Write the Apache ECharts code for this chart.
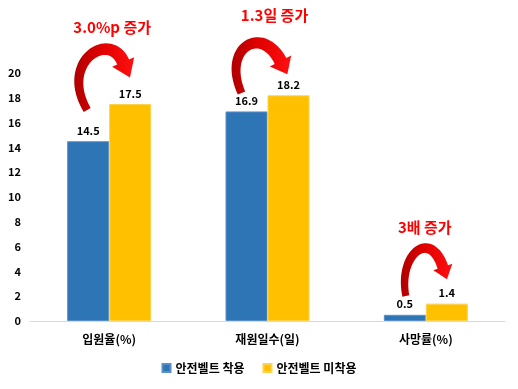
<!DOCTYPE html>
<html><head><meta charset="utf-8">
<script src="https://cdn.jsdelivr.net/npm/echarts@6/dist/echarts.min.js"></script>
<style>html,body{margin:0;padding:0;background:#fff}#c{width:518px;height:389px}</style>
</head><body><div id="c"></div>
<script>
const categories = ['입원율(%)', '재원일수(일)', '사망률(%)'];
const seriesNames = ['안전벨트 착용', '안전벨트 미착용'];
const wearing = [14.5, 16.9, 0.5];
const notWearing = [17.5, 18.2, 1.4];
const yMin = 0, yMax = 20, yInterval = 2;
const notes = ['3.0%p 증가', '1.3일 증가', '3배 증가'];

const FONT = '"Noto Sans CJK KR", "Noto Sans", sans-serif';
const chart = echarts.init(document.getElementById('c'), null, {renderer: 'canvas'});
const lbl = {show: true, position: 'top', distance: 5, color: '#000', fontSize: 11, fontWeight: 'bold', fontFamily: FONT};
chart.setOption({
  animation: false,
  backgroundColor: '#fff',
  grid: {left: 30, right: 13, top: 73, bottom: 68},
  legend: {bottom: 10, left: 'center', itemWidth: 8, itemHeight: 8, itemGap: 18, icon: 'rect',
    textStyle: {fontSize: 12, fontWeight: 'bold', color: '#000', fontFamily: FONT}, data: seriesNames},
  xAxis: {type: 'category', data: categories,
    axisLine: {lineStyle: {color: '#d9d9d9', width: 1}}, axisTick: {show: false},
    axisLabel: {margin: 12, fontSize: 12, fontWeight: 'bold', color: '#000', fontFamily: FONT}},
  yAxis: {type: 'value', min: yMin, max: yMax, interval: yInterval,
    axisLine: {show: false}, axisTick: {show: false}, splitLine: {show: false},
    axisLabel: {margin: 9, fontSize: 11, fontWeight: 'bold', color: '#000', fontFamily: FONT}},
  series: [
    {name: seriesNames[0], type: 'bar', data: wearing, barWidth: 42, barGap: '0%',
      itemStyle: {color: '#2e75b6', borderColor: '#5b8fc9', borderWidth: 1}, label: lbl},
    {name: seriesNames[1], type: 'bar', data: notWearing, barWidth: 42,
      itemStyle: {color: '#ffc000', borderColor: '#ffd24d', borderWidth: 1}, label: lbl}
  ]
});

// Annotation arrows (relative to category centre x and zero line y)
const arrowSpecs = [
  {p: [[-22,-211],[-50,-259],[0,-291],[14,-259]], w0: 8, w1: 13, hh: 12, hl: 17},
  {p: [[-26,-228],[-46,-273],[-6,-297],[13,-260]], w0: 8, w1: 13, hh: 12, hl: 15},
  {p: [[-20,-25],[-28,-66],[4,-93],[17,-54]], w0: 7, w1: 11, hh: 10, hl: 13}
];
const noteOffsets = [[3,-294],[7,-306],[-1,-94]];

function bez(P, t) {
  const a=(1-t)**3, b=3*t*(1-t)**2, c=3*t*t*(1-t), d=t**3;
  return [a*P[0][0]+b*P[1][0]+c*P[2][0]+d*P[3][0], a*P[0][1]+b*P[1][1]+c*P[2][1]+d*P[3][1]];
}
function bezD(P, t) {
  const a=3*(1-t)**2, b=6*t*(1-t), c=3*t*t;
  return [a*(P[1][0]-P[0][0])+b*(P[2][0]-P[1][0])+c*(P[3][0]-P[2][0]),
          a*(P[1][1]-P[0][1])+b*(P[2][1]-P[1][1])+c*(P[3][1]-P[2][1])];
}
const y0 = chart.convertToPixel({yAxisIndex: 0}, 0);
const graphics = [];
categories.forEach((cat, i) => {
  const cx = chart.convertToPixel({xAxisIndex: 0}, cat);
  const s = arrowSpecs[i];
  const P = s.p.map(q => [cx + q[0], y0 + q[1]]);
  const N = 40, left = [], right = [];
  for (let k = 0; k <= N; k++) {
    const t = k / N, p = bez(P, t), d = bezD(P, t);
    const L = Math.hypot(d[0], d[1]) || 1;
    const n = [-d[1]/L, d[0]/L];
    const w = (s.w0 + (s.w1 - s.w0) * t) / 2;
    left.push([p[0] + n[0]*w, p[1] + n[1]*w]);
    right.push([p[0] - n[0]*w, p[1] - n[1]*w]);
  }
  const d = bezD(P, 1), L = Math.hypot(d[0], d[1]);
  const u = [d[0]/L, d[1]/L], n = [-u[1], u[0]], e = P[3];
  const head = [[e[0]+n[0]*s.hh, e[1]+n[1]*s.hh], [e[0]+u[0]*s.hl, e[1]+u[1]*s.hl], [e[0]-n[0]*s.hh, e[1]-n[1]*s.hh]];
  const pts = left.concat(head, right.reverse());
  graphics.push({type: 'polygon', shape: {points: pts}, z: 100,
    style: {fill: new echarts.graphic.LinearGradient(0, 0, 1, 0, [{offset: 0, color: '#b00000'}, {offset: 0.45, color: '#e00000'}, {offset: 1, color: '#ff1010'}])}});
  const o = noteOffsets[i];
  graphics.push({type: 'text', x: cx + o[0], y: y0 + o[1], z: 101,
    style: {text: notes[i], fill: '#ff0000', font: 'bold 15px ' + FONT, textAlign: 'center', textVerticalAlign: 'middle'}});
});
chart.setOption({graphic: graphics});
</script></body></html>
